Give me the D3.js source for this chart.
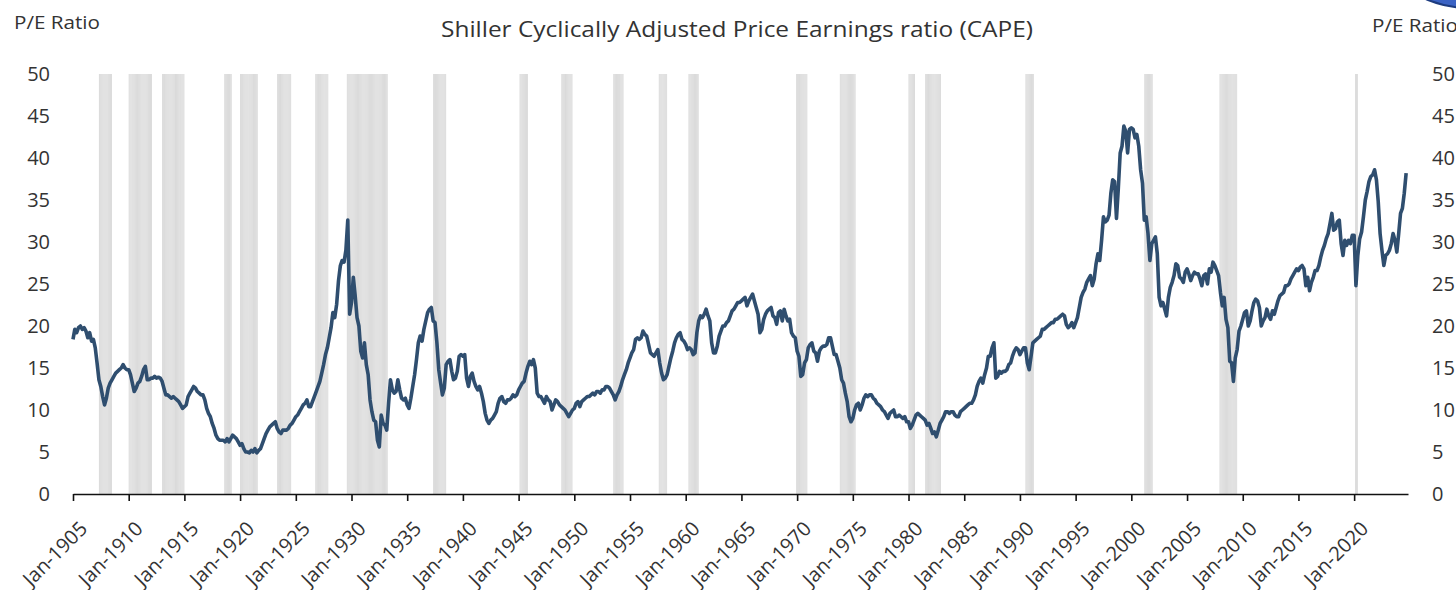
<!DOCTYPE html>
<html>
<head>
<meta charset="utf-8">
<script src="https://cdn.jsdelivr.net/npm/d3@7"></script>
<style>
  body { margin: 0; background: #fff; }
  svg { display: block; font-family: "Open Sans", sans-serif; }
  .axis text { fill: #333; font-size: 20px; font-family: "Open Sans", sans-serif; }
</style>
</head>
<body>
<svg id="chart"></svg>
<script>
// Shiller CAPE, one value every two months (Jan, Mar, May, Jul, Sep, Nov), starting Jan 1905
const capeStart = new Date(1905, 0, 1);
const capeValues = [
  /*1905*/ 18.4, 19.6, 19.2, 19.8, 20.0, 19.6,
  /*1906*/ 19.8, 19.4, 18.6, 19.2, 18.2, 18.4,
  /*1907*/ 17.4, 15.6, 13.6, 12.8, 11.6, 10.6,
  /*1908*/ 11.4, 12.6, 13.2, 13.6, 14.0, 14.4,
  /*1909*/ 14.6, 14.8, 15.0, 15.4, 15.0, 14.8,
  /*1910*/ 14.8, 14.2, 13.2, 12.2, 12.6, 13.2,
  /*1911*/ 13.4, 14.0, 14.8, 15.2, 13.6, 13.6,
  /*1912*/ 13.8, 13.8, 14.0, 13.8, 13.9, 13.8,
  /*1913*/ 13.4, 12.6, 11.8, 11.8, 11.6, 11.4,
  /*1914*/ 11.6, 11.4, 11.2, 11.0, 10.6, 10.2,
  /*1915*/ 10.4, 10.6, 11.6, 12.0, 12.4, 12.8,
  /*1916*/ 12.6, 12.2, 12.0, 11.8, 11.8, 11.2,
  /*1917*/ 10.2, 9.6, 9.2, 8.4, 7.8, 7.0,
  /*1918*/ 6.6, 6.4, 6.4, 6.4, 6.2, 6.6,
  /*1919*/ 6.2, 6.6, 7.0, 6.8, 6.6, 6.2,
  /*1920*/ 5.8, 6.0, 5.4, 5.0, 5.0, 4.9,
  /*1921*/ 5.2, 5.0, 5.4, 4.9, 5.2, 5.4,
  /*1922*/ 6.0, 6.6, 7.2, 7.6, 8.0, 8.2,
  /*1923*/ 8.4, 8.6, 7.8, 7.4, 7.2, 7.6,
  /*1924*/ 7.6, 7.6, 7.8, 8.2, 8.4, 8.8,
  /*1925*/ 9.2, 9.4, 9.8, 10.2, 10.6, 10.8,
  /*1926*/ 11.2, 10.4, 10.4, 11.0, 11.6, 12.2,
  /*1927*/ 12.8, 13.4, 14.4, 15.4, 16.6, 17.4,
  /*1928*/ 18.6, 19.8, 21.6, 21.0, 22.6, 25.4,
  /*1929*/ 27.2, 27.8, 27.6, 29.0, 32.6, 21.4,
  /*1930*/ 22.8, 25.8, 23.6, 21.0, 20.0, 17.0,
  /*1931*/ 16.2, 18.0, 15.4, 14.2, 11.2, 9.8,
  /*1932*/ 8.8, 8.6, 6.4, 5.6, 9.4, 8.4,
  /*1933*/ 8.2, 7.6, 10.8, 13.6, 12.4, 12.0,
  /*1934*/ 12.2, 13.6, 12.4, 11.4, 11.2, 11.4,
  /*1935*/ 10.6, 10.2, 11.4, 12.8, 14.2, 16.0,
  /*1936*/ 18.0, 18.8, 18.2, 19.6, 20.6, 21.6,
  /*1937*/ 22.0, 22.2, 20.6, 20.4, 18.0, 14.8,
  /*1938*/ 13.2, 11.8, 12.6, 15.4, 15.8, 16.0,
  /*1939*/ 14.6, 13.6, 13.8, 14.6, 16.4, 16.6,
  /*1940*/ 16.4, 16.6, 13.8, 12.8, 14.0, 14.4,
  /*1941*/ 13.4, 12.8, 12.4, 12.8, 12.0, 11.0,
  /*1942*/ 9.6, 8.8, 8.4, 8.8, 9.0, 9.4,
  /*1943*/ 9.8, 10.8, 11.4, 11.6, 11.0, 10.8,
  /*1944*/ 11.2, 11.2, 11.4, 11.8, 11.6, 11.8,
  /*1945*/ 12.4, 12.8, 13.2, 13.4, 14.4, 15.2,
  /*1946*/ 15.8, 15.4, 16.0, 15.0, 12.0, 11.6,
  /*1947*/ 11.6, 11.2, 10.8, 11.6, 11.2, 11.0,
  /*1948*/ 10.0, 10.6, 11.2, 11.0, 10.6, 10.4,
  /*1949*/ 10.2, 10.0, 9.6, 9.2, 9.6, 10.0,
  /*1950*/ 10.2, 10.8, 11.0, 10.4, 11.0, 11.2,
  /*1951*/ 11.4, 11.6, 11.6, 11.8, 12.0, 11.8,
  /*1952*/ 12.2, 12.2, 12.0, 12.4, 12.4, 12.8,
  /*1953*/ 12.8, 12.6, 12.2, 11.8, 11.2, 11.8,
  /*1954*/ 12.2, 12.8, 13.6, 14.2, 14.8, 15.6,
  /*1955*/ 16.2, 16.8, 17.2, 18.4, 18.6, 18.4,
  /*1956*/ 18.6, 19.4, 19.0, 18.8, 17.8, 16.8,
  /*1957*/ 16.6, 16.4, 16.8, 17.2, 15.6, 14.4,
  /*1958*/ 13.6, 13.8, 14.2, 15.2, 16.2, 17.0,
  /*1959*/ 18.0, 18.6, 19.0, 19.2, 18.4, 18.2,
  /*1960*/ 17.8, 17.2, 17.4, 17.2, 16.6, 16.8,
  /*1961*/ 19.2, 20.6, 21.2, 21.0, 21.4, 22.0,
  /*1962*/ 21.2, 20.6, 18.0, 16.8, 16.8, 17.6,
  /*1963*/ 18.8, 19.4, 20.0, 20.0, 20.4, 20.6,
  /*1964*/ 21.2, 21.8, 22.0, 22.4, 22.8, 22.8,
  /*1965*/ 23.0, 23.2, 23.4, 22.4, 23.0, 23.4,
  /*1966*/ 23.8, 23.0, 22.2, 21.4, 19.2, 19.6,
  /*1967*/ 20.8, 21.4, 21.8, 22.0, 22.2, 21.2,
  /*1968*/ 21.0, 20.2, 21.6, 21.8, 20.6, 22.0,
  /*1969*/ 21.2, 20.6, 20.8, 19.2, 18.8, 18.6,
  /*1970*/ 17.0, 16.4, 14.0, 14.2, 15.6, 16.0,
  /*1971*/ 17.4, 17.8, 18.0, 17.0, 16.8, 15.8,
  /*1972*/ 17.0, 17.4, 17.6, 17.6, 17.8, 18.6,
  /*1973*/ 18.6, 17.6, 16.6, 16.6, 15.8, 15.0,
  /*1974*/ 13.6, 13.2, 12.0, 11.0, 9.2, 8.6,
  /*1975*/ 9.0, 10.0, 10.6, 10.8, 10.0, 10.6,
  /*1976*/ 11.4, 11.8, 11.6, 11.8, 11.8, 11.4,
  /*1977*/ 11.2, 10.8, 10.6, 10.4, 10.0, 9.8,
  /*1978*/ 9.4, 9.0, 9.6, 9.8, 10.0, 9.2,
  /*1979*/ 9.2, 9.4, 9.2, 9.0, 9.2, 8.6,
  /*1980*/ 8.6, 7.8, 8.2, 8.8, 9.4, 9.6,
  /*1981*/ 9.4, 9.2, 9.0, 8.8, 8.2, 8.4,
  /*1982*/ 7.8, 7.2, 7.4, 6.8, 7.6, 8.4,
  /*1983*/ 8.8, 9.2, 9.8, 9.8, 9.6, 9.8,
  /*1984*/ 9.8, 9.4, 9.2, 9.2, 9.8, 10.0,
  /*1985*/ 10.2, 10.4, 10.6, 10.8, 10.8, 11.2,
  /*1986*/ 11.8, 12.8, 13.4, 13.8, 13.2, 14.2,
  /*1987*/ 15.0, 16.4, 16.4, 17.4, 18.0, 13.8,
  /*1988*/ 14.0, 14.6, 14.4, 14.6, 14.6, 14.8,
  /*1989*/ 15.4, 15.6, 16.4, 17.0, 17.4, 17.2,
  /*1990*/ 16.6, 17.0, 17.4, 17.4, 15.6, 14.8,
  /*1991*/ 16.4, 18.0, 18.2, 18.4, 18.6, 18.8,
  /*1992*/ 19.6, 19.6, 19.8, 20.0, 20.2, 20.4,
  /*1993*/ 20.4, 20.8, 20.8, 21.0, 21.2, 21.4,
  /*1994*/ 21.2, 20.2, 19.8, 20.0, 20.4, 19.8,
  /*1995*/ 20.4, 21.0, 22.2, 23.4, 24.0, 24.4,
  /*1996*/ 25.2, 25.6, 26.0, 24.8, 25.6, 27.4,
  /*1997*/ 28.6, 27.8, 30.2, 33.0, 32.4, 32.6,
  /*1998*/ 33.2, 35.8, 37.4, 37.2, 32.8, 36.4,
  /*1999*/ 40.6, 41.4, 43.8, 43.2, 40.6, 43.4,
  /*2000*/ 43.6, 43.4, 42.4, 42.8, 41.4, 38.6,
  /*2001*/ 37.0, 32.6, 33.0, 31.0, 27.8, 29.8,
  /*2002*/ 30.2, 30.6, 28.6, 23.4, 22.4, 22.8,
  /*2003*/ 22.0, 21.2, 23.4, 24.6, 25.2, 26.0,
  /*2004*/ 27.4, 27.2, 25.8, 25.6, 25.2, 26.4,
  /*2005*/ 26.8, 26.2, 25.4, 26.0, 26.4, 26.2,
  /*2006*/ 26.2, 25.6, 24.8, 26.0, 26.2, 25.0,
  /*2007*/ 26.8, 26.4, 27.6, 27.2, 26.6, 26.0,
  /*2008*/ 24.0, 22.4, 23.4, 20.8, 19.8, 15.8,
  /*2009*/ 15.6, 13.4, 16.2, 17.2, 19.4, 20.0,
  /*2010*/ 20.8, 21.6, 21.8, 20.0, 20.6, 21.8,
  /*2011*/ 22.8, 23.2, 23.0, 22.2, 20.0, 20.6,
  /*2012*/ 21.0, 22.0, 21.2, 20.8, 21.8, 21.4,
  /*2013*/ 22.2, 23.0, 23.6, 23.8, 24.0, 24.8,
  /*2014*/ 24.8, 25.0, 25.6, 26.0, 26.4, 26.8,
  /*2015*/ 26.6, 27.0, 27.2, 26.8, 24.8, 25.8,
  /*2016*/ 24.2, 25.2, 25.8, 26.6, 26.6, 27.2,
  /*2017*/ 28.2, 29.0, 29.6, 30.4, 31.0, 32.2,
  /*2018*/ 33.4, 31.4, 31.6, 32.4, 32.6, 29.8,
  /*2019*/ 28.4, 30.2, 29.6, 30.2, 29.8, 30.8,
  /*2020*/ 30.8, 24.8, 28.4, 30.4, 31.2, 33.0,
  /*2021*/ 35.0, 36.0, 37.2, 37.8, 38.0, 38.6,
  /*2022*/ 37.4, 34.8, 31.0, 29.0, 27.2, 28.4,
  /*2023*/ 28.6, 29.0, 29.8, 31.0, 30.2, 28.8,
  /*2024*/ 31.0, 33.4, 34.0, 35.8, 38.2
];

// NBER recessions [first month, last month]
const recessions = [
  ["1907-05", "1908-06"], ["1910-01", "1912-01"], ["1913-01", "1914-12"],
  ["1918-08", "1919-03"], ["1920-01", "1921-07"], ["1923-05", "1924-07"],
  ["1926-10", "1927-11"], ["1929-08", "1933-03"], ["1937-05", "1938-06"],
  ["1945-02", "1945-10"], ["1948-11", "1949-10"], ["1953-07", "1954-05"],
  ["1957-08", "1958-04"], ["1960-04", "1961-02"], ["1969-12", "1970-11"],
  ["1973-11", "1975-03"], ["1980-01", "1980-07"], ["1981-07", "1982-11"],
  ["1990-07", "1991-03"], ["2001-03", "2001-11"], ["2007-12", "2009-06"],
  ["2020-02", "2020-04"]
];

const xTickYears = d3.range(1905, 2021, 5);
const yTickValues = [0, 5, 10, 15, 20, 25, 30, 35, 40, 45, 50];

const chartTitle = "Shiller Cyclically Adjusted Price Earnings ratio (CAPE)";
const axisTitle = "P/E Ratio";

// ---- layout
const config = {
  width: 1456,
  height: 590,
  margin: { top: 74, right: 48, bottom: 96, left: 73 }
};
const width = config.width - config.margin.left - config.margin.right;
const height = config.height - config.margin.top - config.margin.bottom;

const svg = d3.select("#chart")
  .attr("width", config.width)
  .attr("height", config.height);

const chart = svg.append("g")
  .attr("transform", `translate(${config.margin.left},${config.margin.top})`);

const parseMonth = d3.timeParse("%Y-%m");

const xScale = d3.scaleTime()
  .domain([capeStart, new Date(2024, 10, 1)])
  .range([0, width]);

const yScale = d3.scaleLinear()
  .domain([0, 50])
  .range([height, 0]);

// recession shading, one column per month
const recessionMonths = [];
recessions.forEach(([a, b]) => {
  d3.timeMonths(parseMonth(a), d3.timeMonth.offset(parseMonth(b), 1))
    .forEach(m => recessionMonths.push(m));
});

chart.append("g")
  .selectAll("rect")
  .data(recessionMonths)
  .join("rect")
  .attr("x", d => xScale(d))
  .attr("width", d => xScale(d3.timeMonth.offset(d, 1)) - xScale(d))
  .attr("y", yScale(50))
  .attr("height", yScale(0) - yScale(50))
  .attr("fill", "#d9d9d9");

// axes
const xAxis = d3.axisBottom(xScale)
  .tickValues(xTickYears.map(y => new Date(y, 0, 1)))
  .tickFormat(d3.timeFormat("Jan-%Y"))
  .tickSize(7)
  .tickSizeOuter(0);

const xAxisG = chart.append("g")
  .attr("class", "axis x-axis")
  .attr("transform", `translate(0,${height})`)
  .call(xAxis);

xAxisG.select(".domain").attr("stroke", "#111").attr("stroke-width", 1.6);
xAxisG.selectAll(".tick line").attr("stroke", "#111").attr("stroke-width", 1.6);
xAxisG.selectAll(".tick text")
  .attr("text-anchor", "end")
  .attr("transform", "translate(15,36) rotate(-45)")
  .attr("x", 0)
  .attr("y", 0)
  .attr("dy", 0);

const yAxisLeft = d3.axisLeft(yScale)
  .tickValues(yTickValues)
  .tickSize(0)
  .tickPadding(23);

const yAxisRight = d3.axisRight(yScale)
  .tickValues(yTickValues)
  .tickSize(0)
  .tickPadding(24);

chart.append("g").attr("class", "axis y-axis").call(yAxisLeft)
  .call(g => g.select(".domain").remove());

chart.append("g").attr("class", "axis y-axis")
  .attr("transform", `translate(${width},0)`)
  .call(yAxisRight)
  .call(g => g.select(".domain").remove());

// CAPE line
const capeSeries = capeValues.map((v, i) => ({
  date: d3.timeMonth.offset(capeStart, i * 2),
  value: v
}));

const line = d3.line()
  .x(d => xScale(d.date))
  .y(d => yScale(d.value));

chart.append("path")
  .datum(capeSeries)
  .attr("fill", "none")
  .attr("stroke", "#2f4e6f")
  .attr("stroke-width", 3.6)
  .attr("stroke-linejoin", "round")
  .attr("d", line);

// titles
svg.append("text")
  .attr("x", 441)
  .attr("y", 37)
  .attr("textLength", 592)
  .attr("lengthAdjust", "spacingAndGlyphs")
  .attr("fill", "#333")
  .style("font-size", "21px")
  .text(chartTitle);

svg.append("text")
  .attr("x", 14)
  .attr("y", 29)
  .attr("textLength", 86)
  .attr("lengthAdjust", "spacingAndGlyphs")
  .attr("fill", "#333")
  .style("font-size", "19px")
  .text(axisTitle);

svg.append("text")
  .attr("x", 1372)
  .attr("y", 32)
  .attr("textLength", 86)
  .attr("lengthAdjust", "spacingAndGlyphs")
  .attr("fill", "#333")
  .style("font-size", "19px")
  .text(axisTitle);

// partial badge in the top-right corner
svg.append("circle")
  .attr("cx", 1470)
  .attr("cy", -106)
  .attr("r", 114)
  .attr("fill", "#3b63c4")
  .attr("stroke", "#1d3c80")
  .attr("stroke-width", 2);
</script>
</body>
</html>
